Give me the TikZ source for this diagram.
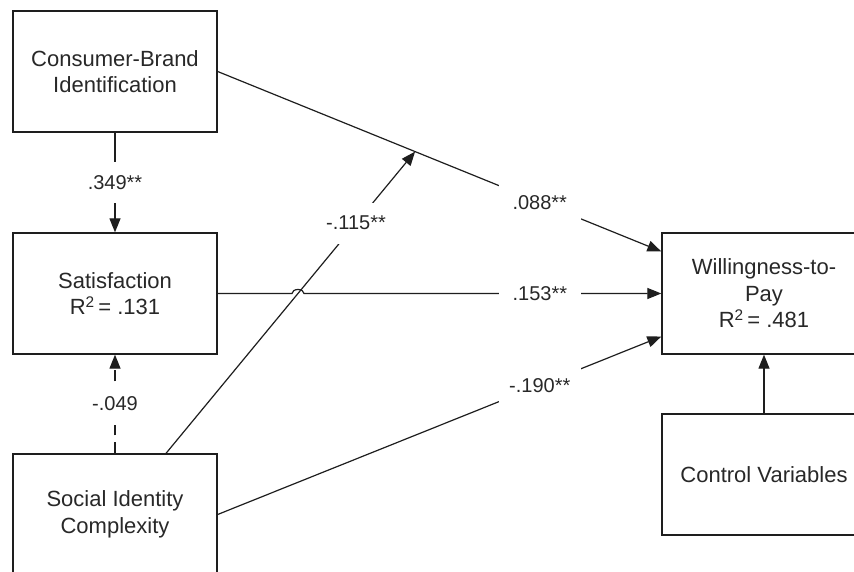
\documentclass[tikz,border=0pt]{standalone}
\usepackage{fontspec}
\setmainfont{Liberation Sans}
\usetikzlibrary{arrows.meta,calc}
\definecolor{ink}{RGB}{30,30,30}
\definecolor{txt}{RGB}{40,40,40}
\tikzset{
  box/.style={draw=ink, line width=1.3pt, minimum width=204pt, minimum height=121pt,
    inner sep=0pt, align=center, text=txt, font=\fontsize{22}{26.5}\selectfont},
  arr/.style={draw=ink, line width=1.2pt, -{Triangle[length=14pt,width=11pt]}},
  lbl/.style={fill=white, minimum width=82pt, minimum height=41pt, inner sep=0pt,
    text=txt, font=\fontsize{20}{24}\selectfont}
}
\begin{document}
\begin{tikzpicture}[x=1pt,y=1pt]
\useasboundingbox (0,0) rectangle (854,571);
\clip (0,0) rectangle (854,571);
\fill[white] (0,0) rectangle (854,571);

\node[box] (cbi) at (115,499.5) {Consumer-Brand\\Identification};
\node[box] (sat) at (115,277.5) {Satisfaction\\R\textsuperscript{2}\,= .131};
\node[box] (sic) at (115,56.5) {Social Identity\\Complexity};
\node[box] (wtp) at (764,277.5) {Willingness-to-\\Pay\\R\textsuperscript{2}\,= .481};
\node[box] (cv) at (764,96.5) {Control Variables};

% CBI -> Satisfaction
\draw[arr] (cbi.south) -- node[lbl]{.349**} (sat.north);
% SIC -> Satisfaction (dashed)
\draw[arr, dash pattern=on 11pt off 7pt] (sic.north) -- node[lbl]{-.049} (sat.north |- sat.south);

% CBI -> WTP with moderation point
\draw[arr] (cbi.east) -- coordinate[pos=0.445] (mod) node[lbl,pos=0.726]{.088**} ([yshift=42pt]wtp.west);

% SIC -> moderation point
\coordinate (smstart) at ([xshift=51pt]sic.north);
\draw[arr] (smstart) -- node[lbl,pos=0.763]{-.115**} (mod);

% Satisfaction -> WTP with hop
\coordinate (hop) at (intersection of sat.east--wtp.west and smstart--mod);
\draw[arr] (sat.east) -- ([xshift=-6pt]hop) arc[start angle=180, end angle=0, x radius=6pt, y radius=4pt]
  -- node[lbl,pos=0.66]{.153**} (wtp.west);

% SIC -> WTP
\draw[arr] (sic.east) -- node[lbl,pos=0.726]{-.190**} ([yshift=-43pt]wtp.west);

% Control -> WTP
\draw[arr] (cv.north) -- (wtp.south);
\end{tikzpicture}
\end{document}
